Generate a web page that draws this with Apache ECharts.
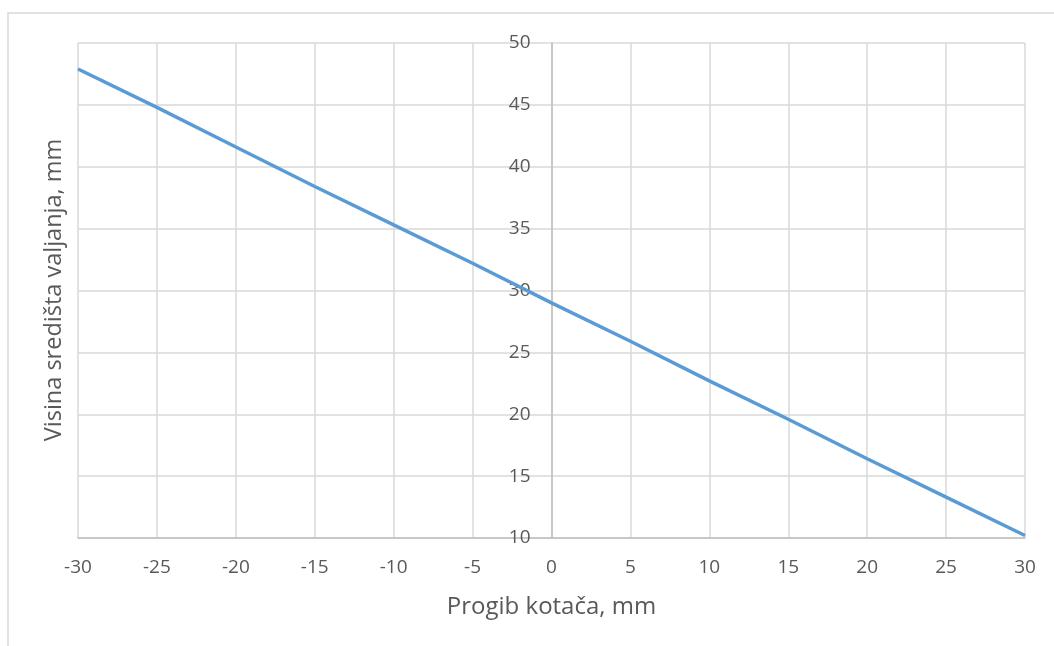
<!DOCTYPE html>
<html>
<head>
<meta charset="utf-8">
<script src="https://cdn.jsdelivr.net/npm/echarts@6/dist/echarts.min.js"></script>
<style>
  html, body { margin: 0; padding: 0; background: #fff; }
  #myChart { width: 1054px; height: 646px; }
</style>
</head>
<body>
<div id="myChart"></div>
<script>
// progib kotaca (mm) -> visina sredista valjanja (mm)
const progib = [-30, -25, -20, -15, -10, -5, 0, 5, 10, 15, 20, 25, 30];
const visina = [47.9, 44.8, 41.6, 38.4, 35.3, 32.2, 29.0, 25.9, 22.7, 19.6, 16.4, 13.3, 10.2];
const xTitle = 'Progib kotača, mm';
const yTitle = 'Visina središta valjanja, mm';

const txt = '#595959';
const font = '"Open Sans", "Liberation Sans", sans-serif';
const gridLeft = 78, gridRight = 29;
const plotW = 1054 - gridLeft - gridRight;

let option = {
  animation: false,
  textStyle: { fontFamily: font },
  grid: { left: gridLeft, right: gridRight, top: 43, bottom: 108 },
  graphic: [
    {
      type: 'rect',
      shape: { x: 8, y: 13, width: 1100, height: 700 },
      style: { fill: 'none', stroke: '#d9d9d9', lineWidth: 1.5 },
      silent: true
    },
    {
      type: 'text',
      x: 54, y: 290,
      rotation: Math.PI / 2,
      style: {
        text: yTitle, fill: txt, fontSize: 23.5, fontFamily: font,
        textAlign: 'center', textVerticalAlign: 'middle'
      }
    }
  ],
  xAxis: {
    type: 'value',
    min: -30, max: 30, interval: 5,
    name: xTitle,
    nameLocation: 'middle',
    nameGap: 57,
    nameTextStyle: { color: txt, fontSize: 24 },
    axisLine: { onZero: false, lineStyle: { color: '#bfbfbf', width: 1.5 } },
    axisTick: { show: false },
    axisLabel: { color: txt, fontSize: 19, margin: 20 },
    splitLine: { lineStyle: { color: '#d9d9d9', width: 1.5 } }
  },
  yAxis: {
    type: 'value',
    min: 10, max: 50, interval: 5,
    position: 'left',
    // move the axis (line + labels) to x = 0
    offset: -plotW / 2,
    axisLine: { show: true, onZero: false, lineStyle: { color: '#bfbfbf', width: 1.5 } },
    axisTick: { show: false },
    axisLabel: { color: txt, fontSize: 19, margin: 21 },
    splitLine: { lineStyle: { color: '#d9d9d9', width: 1.5 } }
  },
  series: [
    {
      type: 'line',
      data: progib.map((x, i) => [x, visina[i]]),
      showSymbol: false,
      lineStyle: { color: '#5b9bd5', width: 3.5 },
      itemStyle: { color: '#5b9bd5' }
    }
  ]
};

let myChart = echarts.init(document.getElementById('myChart'));
myChart.setOption(option);
</script>
</body>
</html>
